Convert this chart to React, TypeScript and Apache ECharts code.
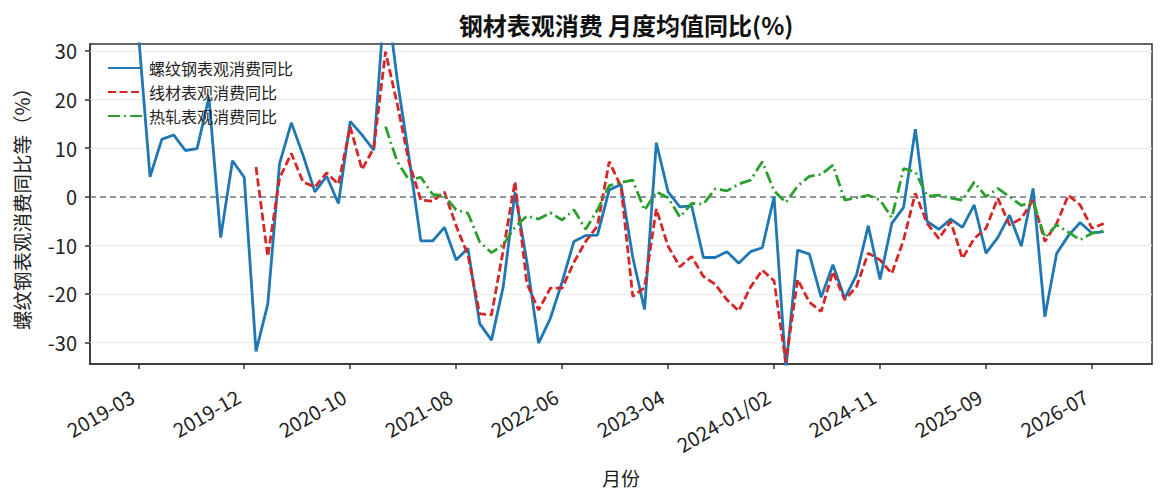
import { useEffect, useRef } from "react";
import * as echarts from "echarts";

// 月份（2019年起，1/2月合并）
const months = [
  "2019-03", "2019-04", "2019-05", "2019-06", "2019-07", "2019-08", "2019-09", "2019-10", "2019-11", "2019-12",
  "2020-01/02", "2020-03", "2020-04", "2020-05", "2020-06", "2020-07", "2020-08", "2020-09", "2020-10", "2020-11", "2020-12",
  "2021-01/02", "2021-03", "2021-04", "2021-05", "2021-06", "2021-07", "2021-08", "2021-09", "2021-10", "2021-11", "2021-12",
  "2022-01/02", "2022-03", "2022-04", "2022-05", "2022-06", "2022-07", "2022-08", "2022-09", "2022-10", "2022-11", "2022-12",
  "2023-01/02", "2023-03", "2023-04", "2023-05", "2023-06", "2023-07", "2023-08", "2023-09", "2023-10", "2023-11", "2023-12",
  "2024-01/02", "2024-03", "2024-04", "2024-05", "2024-06", "2024-07", "2024-08", "2024-09", "2024-10", "2024-11", "2024-12",
  "2025-01/02", "2025-03", "2025-04", "2025-05", "2025-06", "2025-07", "2025-08", "2025-09", "2025-10", "2025-11", "2025-12",
  "2026-01/02", "2026-03", "2026-04", "2026-05", "2026-06", "2026-07", "2026-08",
];

// 螺纹钢
const rebar = [
  34, 4.1, 11.8, 12.7, 9.5, 9.9, 20.5, -8.4, 7.4, 4.0,
  -31.8, -22.1, 6.8, 15.2, 8.5, 1.0, 4.2, -1.4, 15.5, 12.7, 9.6,
  43, 24, 8, -9.1, -9.1, -6.3, -13, -10.6, -26.1, -29.5, -18.5,
  0.9, -13.3, -30.1, -25, -17.5, -9.2, -8, -7.9, 1.4, 2.5, -12.5,
  -23.2, 11.1, 1.0, -2.1, -1.9, -12.5, -12.5, -11.3, -13.7, -11.3, -10.5,
  0, -35.5, -11, -11.8, -20.7, -14, -20.9, -16.1, -6, -17, -5.5,
  -2.2, 13.9, -5.1, -6.7, -4.6, -6.3, -1.7, -11.6, -8.4, -3.8, -10.2,
  1.7, -24.7, -11.7, -8.0, -5.3, -7.5, -7.2,
];

// 线材
const wire = [
  null, null, null, null, null, null, null, null, null, null,
  6.1, -12.3, 3.8, 8.9, 3.0, 2.0, 4.9, 2.6, 14.4, 5.6, 10,
  29.8, 19, 7, -0.7, -0.9, 1.0, -6, -12, -24.1, -24.3, -11,
  3.1, -17.8, -23.3, -18.8, -18.8, -13.5, -9.2, -6, 7.2, 2.1, -20.5,
  -18.7, -2.5, -10.2, -14.4, -12.3, -16.4, -18, -21.2, -23.5, -18.6, -15.1,
  -17.3, -34, -17, -21.7, -23.6, -15.4, -21.2, -18.5, -11.6, -13, -15.8,
  -8.9, 0.7, -5.5, -8.6, -5.1, -12.7, -8.6, -6.5, -0.3, -5.8, -4.5,
  -0.7, -9.2, -5.5, 0.3, -1.7, -6.5, -5.5,
];

// 热轧
const hotRolled = [
  null, null, null, null, null, null, null, null, null, null,
  null, null, null, null, null, null, null, null, null, null, null,
  14.4, 7.2, 3.4, 4.0, 0.5, 0.2, -2.7, -3.4, -9.3, -11.5, -9.9,
  -6.2, -4.0, -4.6, -3.3, -4.8, -2.7, -6.7, -2.7, 2.3, 2.9, 3.4,
  -2.8, 1.0, -0.2, -4.2, -1.4, -1.5, 1.6, 1.2, 2.6, 3.4, 7.2,
  1.2, -1.2, 2.2, 4.2, 4.6, 6.5, -0.7, -0.2, 0.3, -0.7, -4.3,
  5.8, 5.1, 0.1, 0.3, -0.3, -0.7, 3.0, 0, 1.7, 0, -1.8,
  -1.0, -8.4, -5.8, -7.3, -8.9, -7.5, -7.0,
];

const seriesNames = ["螺纹钢表观消费同比", "线材表观消费同比", "热轧表观消费同比"];
const xTickIdx = [0, 9, 18, 27, 36, 45, 54, 63, 72, 81];
const yTicks = [-30, -20, -10, 0, 10, 20, 30];

const FONT = '"Noto Sans CJK SC", "Noto Sans", sans-serif';

export default function App() {
  const chartRef = useRef<HTMLDivElement>(null);

  useEffect(() => {
    if (!chartRef.current) return;
    document.body.style.margin = "0";
    const chart = echarts.init(chartRef.current, null, { renderer: "svg" });

    const toPairs = (arr: (number | null)[]) => arr.map((v, i) => [i, v]);
    const lastIdx = months.length - 1;
    const pad = lastIdx * 0.05;

    chart.setOption({
      animation: false,
      backgroundColor: "#fff",
      textStyle: { fontFamily: FONT },
      title: {
        text: "钢材表观消费 月度均值同比(%)",
        left: 621,
        top: 7,
        textAlign: "center",
        textStyle: { fontSize: 24, fontWeight: "bold", color: "#111", fontFamily: FONT },
      },
      legend: {
        orient: "vertical",
        left: 102,
        top: 55,
        itemWidth: 34,
        itemHeight: 14,
        itemGap: 8,
        data: seriesNames,
        itemStyle: { opacity: 0 },
        textStyle: { fontSize: 16, color: "#222", fontFamily: FONT, padding: [0, 0, 0, 2] },
      },
      grid: {
        left: 90,
        right: 14,
        top: 44,
        height: 320,
        show: true,
        borderColor: "#333",
        borderWidth: 1.5,
      },
      xAxis: {
        type: "value",
        min: -pad,
        max: lastIdx + pad,
        name: "月份",
        nameLocation: "middle",
        nameGap: 104,
        nameTextStyle: { fontSize: 19, color: "#222", fontFamily: FONT },
        axisLine: { show: true, onZero: false, lineStyle: { color: "#333", width: 1.5 } },
        axisTick: { show: true, length: 5, customValues: xTickIdx, lineStyle: { color: "#333", width: 1.5 } },
        axisLabel: {
          customValues: xTickIdx,
          rotate: 30,
          margin: 27,
          padding: [0, 7, 0, 0],
          fontSize: 20,
          color: "#222",
          fontFamily: FONT,
          formatter: (v: number) => months[Math.round(v)] ?? "",
        },
        splitLine: { show: false },
      },
      yAxis: {
        type: "value",
        min: -34.4,
        max: 31.4,
        name: "螺纹钢表观消费同比等（%）",
        nameLocation: "middle",
        nameGap: 59,
        nameRotate: 90,
        nameTextStyle: { fontSize: 19.5, color: "#222", fontFamily: FONT },
        axisLine: { show: true, onZero: false, lineStyle: { color: "#333", width: 1.5 } },
        axisTick: { show: true, length: 5, customValues: yTicks, lineStyle: { color: "#333", width: 1.5 } },
        axisLabel: { customValues: yTicks, margin: 13, fontSize: 20, color: "#222", fontFamily: FONT },
        splitLine: { show: false },
      },
      series: [
        {
          name: "grid",
          type: "line",
          data: [],
          silent: true,
          z: 1,
          markLine: {
            silent: true,
            symbol: "none",
            z: 1,
            label: { show: false },
            lineStyle: { color: "#ebebeb", width: 1.2, type: "solid" },
            data: [
              ...yTicks.filter((t) => t !== 0).map((t) => ({ yAxis: t })),
              { yAxis: 0, lineStyle: { color: "#6c737d", width: 1.5, type: [6, 4] } },
            ],
          },
        },
        {
          name: seriesNames[0],
          type: "line",
          data: toPairs(rebar),
          symbol: "none",
          z: 3,
          lineStyle: { color: "#1f77b4", width: 2.8 },
          itemStyle: { color: "#1f77b4" },
        },
        {
          name: seriesNames[1],
          type: "line",
          data: toPairs(wire),
          symbol: "none",
          z: 4,
          lineStyle: { color: "#d62728", width: 2.8, type: [8, 3.5] },
          itemStyle: { color: "#d62728" },
        },
        {
          name: seriesNames[2],
          type: "line",
          data: toPairs(hotRolled),
          symbol: "none",
          z: 5,
          lineStyle: { color: "#2ca02c", width: 2.8, type: [12, 4, 2, 4] },
          itemStyle: { color: "#2ca02c" },
        },
      ],
    });

    return () => {
      chart.dispose();
    };
  }, []);

  return <div ref={chartRef} style={{ width: 1166, height: 503 }} />;
}
